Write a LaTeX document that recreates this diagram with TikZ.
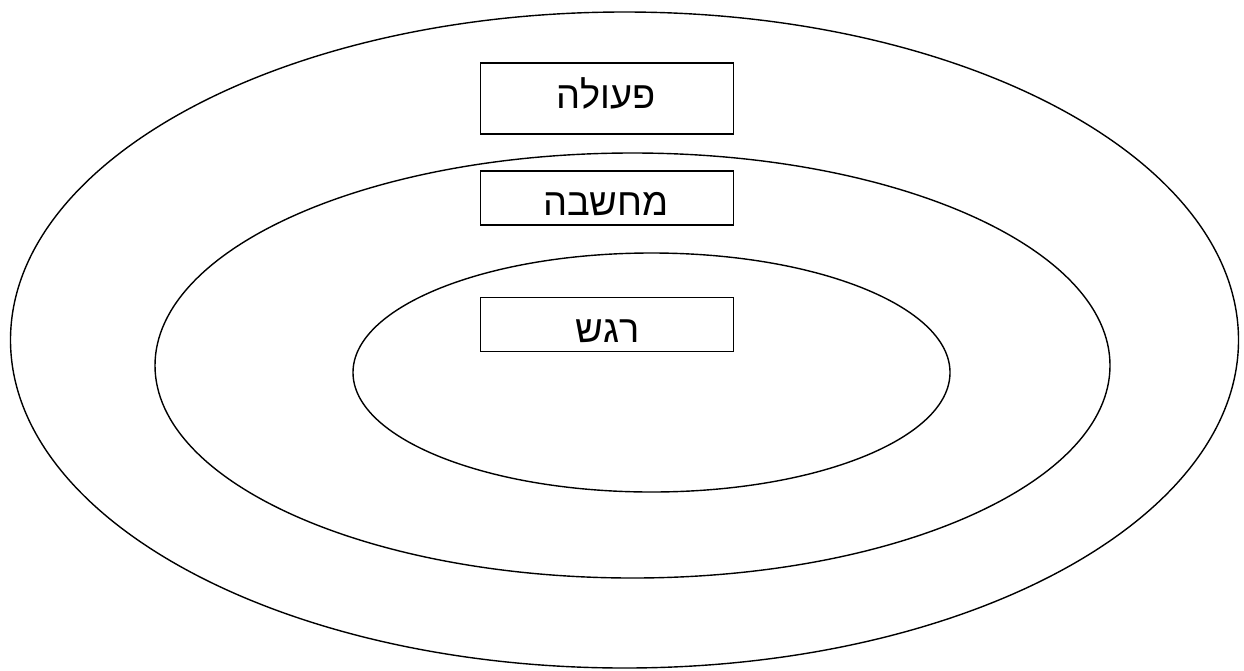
\documentclass[tikz,border=0pt]{standalone}
\usepackage{fontspec}
\setmainfont{Liberation Sans}
\TeXXeTstate=1
\begin{document}
\begin{tikzpicture}[x=1pt,y=-1pt,
  ring/.style={draw=black,line width=1.4pt},
  label/.style={draw=black,line width=1.2pt,fill=white,inner sep=0pt},
  tagtext/.style={inner sep=0pt,anchor=base,font=\fontsize{38}{44}\selectfont}]
\useasboundingbox (0,0) rectangle (1244,670);
\draw[ring] (624.5,340) ellipse [x radius=614, y radius=328];
\draw[ring] (632.5,365.5) ellipse [x radius=477.5, y radius=212.5];
\draw[ring] (651.5,372.5) ellipse [x radius=298.5, y radius=119.5];
\node[label,minimum width=253pt,minimum height=71pt] (action) at (607,98.5) {};
\node[tagtext] (actiontext) at (606,108) {\beginR פעולה\endR};
\node[label,minimum width=253pt,minimum height=54pt] (thought) at (607,198) {};
\node[tagtext] (thoughttext) at (606,215) {\beginR מחשבה\endR};
\node[label,minimum width=253pt,minimum height=54pt] (feeling) at (607,324.5) {};
\node[tagtext] (feelingtext) at (608,342) {\beginR רגש\endR};
\end{tikzpicture}
\end{document}
